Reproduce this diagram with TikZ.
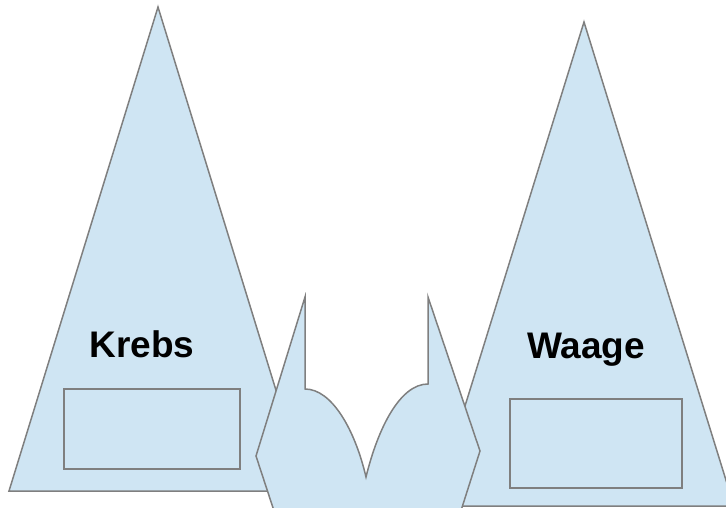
\documentclass[tikz,border=0pt]{standalone}
\usepackage{fontspec}
\setmainfont{Liberation Sans}
\definecolor{lblue}{HTML}{CFE5F3}
\definecolor{edgegray}{HTML}{7F7F7F}
\begin{document}
\begin{tikzpicture}[x=1pt,y=-1pt,
  piece/.style={fill=lblue, draw=edgegray, line width=1.5pt, line join=miter},
  box/.style={draw=edgegray, line width=1.5pt},
  signtext/.style={font=\fontsize{37}{42}\selectfont\bfseries, inner sep=0pt, anchor=base}]
\useasboundingbox (0,0) rectangle (726,507);
\clip (0,0) rectangle (726,507);
% left triangle
\draw[piece] (158,7) -- (9,491) -- (307,491) -- cycle;
\draw[box] (64,389) rectangle (240,469);
\node[signtext] (krebs) at (142,357) {Krebs};
% right triangle
\draw[piece] (584,22) -- (434,506) -- (734,506) -- cycle;
\draw[box] (510,399) rectangle (682,488);
\node[signtext] (waage) at (586,358) {Waage};
% middle gate
\draw[piece] (305,297) -- (305,389)
  .. controls (332,389) and (355,430) .. (366,477)
  .. controls (378,428) and (400,384) .. (428,384)
  -- (428,297) -- (480,451) -- (458,520) -- (277,520) -- (256,456) -- cycle;
\end{tikzpicture}
\end{document}
